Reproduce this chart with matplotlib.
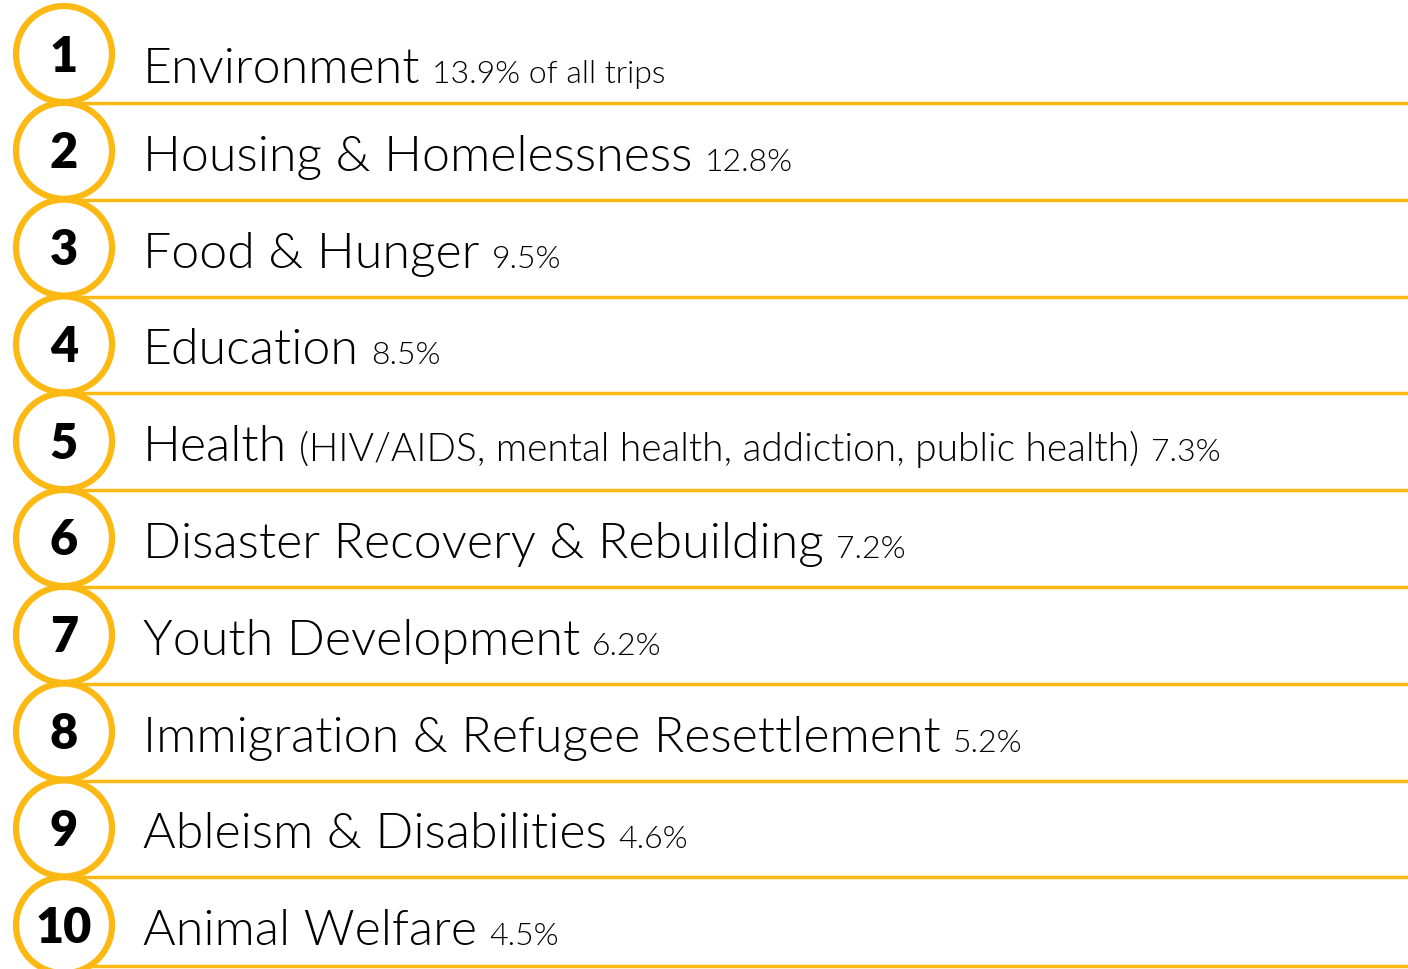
import matplotlib
matplotlib.use("Agg")
import matplotlib.pyplot as plt
from matplotlib.patches import Circle

# data
ranks = ["1", "2", "3", "4", "5", "6", "7", "8", "9", "10"]
causes = [
    "Environment",
    "Housing & Homelessness",
    "Food & Hunger",
    "Education",
    "Health",
    "Disaster Recovery & Rebuilding",
    "Youth Development",
    "Immigration & Refugee Resettlement",
    "Ableism & Disabilities",
    "Animal Welfare",
]
notes = ["", "", "", "", "(HIV/AIDS, mental health, addiction, public health)",
         "", "", "", "", ""]
shares = ["13.9% of all trips", "12.8%", "9.5%", "8.5%", "7.3%",
          "7.2%", "6.2%", "5.2%", "4.6%", "4.5%"]

GOLD = "#FDB913"
FONT = "Lato"
TEXT_W = 300

W, H = 1408, 970
fig = plt.figure(figsize=(W / 100, H / 100), dpi=100)
ax = fig.add_axes([0, 0, 1, 1])
ax.set_xlim(0, W)
ax.set_ylim(H, 0)
ax.axis("off")

row_h = 96.8
top = 55.0
cx, r = 64, 48
text_x = 143
renderer = fig.canvas.get_renderer()
inv = ax.transData.inverted()


def after(t, gap=12):
    # x position (data) just right of a drawn text
    bb = t.get_window_extent(renderer=renderer)
    return inv.transform((bb.x1, bb.y0))[0] + gap


for i, rank in enumerate(ranks):
    cy = top + i * row_h
    # rule under the row
    ly = min(cy + r + 1, H - 3)
    ax.plot([cx, W], [ly, ly], color=GOLD, lw=2.5, zorder=1,
            solid_capstyle="butt")
    ax.add_patch(Circle((cx, cy), r, facecolor="white", edgecolor=GOLD,
                        lw=4.5, zorder=2))
    ax.text(cx, cy + 2, rank, ha="center", va="center", fontsize=35,
            fontweight="heavy", family=FONT, color="black", zorder=3)

    base = cy + (28 if i == 0 else 19)
    t = ax.text(text_x, base, causes[i], ha="left", va="baseline",
                fontsize=36, fontweight=TEXT_W, family=FONT, color="black")
    x = after(t)
    if notes[i]:
        t = ax.text(x, base, notes[i], ha="left", va="baseline",
                    fontsize=28, fontweight=TEXT_W, family=FONT,
                    color="black")
        x = after(t)
    ax.text(x, base, shares[i], ha="left", va="baseline",
            fontsize=23, fontweight=TEXT_W, family=FONT, color="black")

fig.savefig("out.png", dpi=100, facecolor="white")
